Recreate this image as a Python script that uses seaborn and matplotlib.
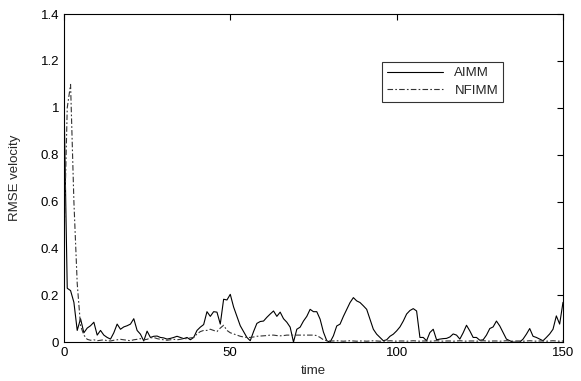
import matplotlib
matplotlib.use("Agg")
import matplotlib.pyplot as plt
import matplotlib.ticker as mticker
import seaborn as sns
import pandas as pd

# RMSE velocity per time step (t = 0 .. 150)
aimm = [1.05, 0.23, 0.22, 0.17, 0.05, 0.10, 0.04, 0.06, 0.07, 0.085,
        0.03, 0.05, 0.03, 0.02, 0.013, 0.04, 0.077, 0.055, 0.065, 0.07,
        0.077, 0.10, 0.05, 0.034, 0.005, 0.047, 0.02, 0.025, 0.026, 0.02,
        0.018, 0.013, 0.016, 0.02, 0.025, 0.02, 0.015, 0.02, 0.01, 0.02,
        0.05, 0.064, 0.075, 0.13, 0.11, 0.13, 0.128, 0.077, 0.183, 0.18,
        0.204, 0.15, 0.11, 0.07, 0.045, 0.02, 0.006, 0.045, 0.08, 0.088,
        0.09, 0.106, 0.12, 0.133, 0.11, 0.128, 0.10, 0.085, 0.064, 0.0,
        0.055, 0.064, 0.09, 0.11, 0.14, 0.13, 0.13, 0.098, 0.043, 0.006,
        0.0, 0.027, 0.069, 0.077, 0.11, 0.14, 0.169, 0.19, 0.176, 0.169,
        0.155, 0.14, 0.098, 0.055, 0.034, 0.02, 0.006, 0.01, 0.025, 0.034,
        0.048, 0.065, 0.09, 0.12, 0.135, 0.143, 0.133, 0.02, 0.02, 0.006,
        0.041, 0.055, 0.01, 0.013, 0.015, 0.016, 0.022, 0.035, 0.03, 0.013,
        0.04, 0.072, 0.048, 0.02, 0.02, 0.008, 0.01, 0.03, 0.058, 0.065,
        0.09, 0.069, 0.041, 0.013, 0.006, 0.0, 0.0, 0.0, 0.013, 0.034,
        0.058, 0.025, 0.02, 0.013, 0.006, 0.02, 0.035, 0.055, 0.112, 0.077,
        0.17]
nfimm = [0.40, 1.00, 1.10, 0.60, 0.25, 0.07, 0.03, 0.012, 0.008, 0.01,
         0.006, 0.008, 0.01, 0.006, 0.005, 0.008, 0.01, 0.012, 0.01, 0.008,
         0.006, 0.01, 0.012, 0.015, 0.01, 0.012, 0.018, 0.02, 0.015, 0.012,
         0.01, 0.008, 0.01, 0.012, 0.01, 0.012, 0.015, 0.015, 0.018, 0.02,
         0.035, 0.045, 0.05, 0.05, 0.055, 0.05, 0.045, 0.06, 0.072, 0.05,
         0.04, 0.035, 0.03, 0.025, 0.022, 0.02, 0.02, 0.022, 0.025, 0.026,
         0.027, 0.028, 0.03, 0.03, 0.028, 0.027, 0.028, 0.03, 0.03, 0.03,
         0.03, 0.03, 0.03, 0.03, 0.03, 0.03, 0.028, 0.02, 0.01, 0.006,
         0.005, 0.005, 0.006, 0.005, 0.004, 0.005, 0.006, 0.005, 0.004, 0.005,
         0.005, 0.004, 0.005, 0.006, 0.005, 0.004, 0.004, 0.005, 0.006, 0.005,
         0.004, 0.005, 0.005, 0.004, 0.005, 0.006, 0.005, 0.004, 0.005, 0.005,
         0.004, 0.005, 0.006, 0.005, 0.004, 0.005, 0.005, 0.004, 0.005, 0.006,
         0.005, 0.004, 0.005, 0.005, 0.004, 0.005, 0.006, 0.005, 0.004, 0.005,
         0.005, 0.004, 0.005, 0.006, 0.005, 0.004, 0.005, 0.005, 0.004, 0.005,
         0.006, 0.005, 0.004, 0.005, 0.005, 0.004, 0.005, 0.006, 0.005, 0.004,
         0.005]
time = list(range(len(aimm)))
methods = ["AIMM", "NFIMM"]

df = pd.DataFrame({
    "time": time + time,
    "RMSE": aimm + nfimm,
    "method": [methods[0]] * len(aimm) + [methods[1]] * len(nfimm),
})

sns.set_style("white")
plt.rcParams["font.family"] = ["Liberation Sans", "DejaVu Sans"]

fig = plt.figure(figsize=(5.81, 3.81), dpi=100)
ax = fig.add_axes([0.110, 0.102, 0.859, 0.861])

sns.lineplot(data=df, x="time", y="RMSE", hue="method", style="method",
             palette=["black", "#333333"],
             dashes={"AIMM": "", "NFIMM": (5, 2, 1.5, 2)},
             linewidth=0.8, ax=ax)

ax.set_xlim(0, 150)
ax.set_ylim(0, 1.4)
ax.set_xticks([0, 50, 100, 150])
ax.set_yticks([0, 0.2, 0.4, 0.6, 0.8, 1.0, 1.2, 1.4])
ax.yaxis.set_major_formatter(mticker.FuncFormatter(lambda v, p: "%g" % round(v, 1)))
ax.tick_params(direction="in", length=4, width=0.8, labelsize=9.5,
               top=True, right=True, colors="black")
for s in ax.spines.values():
    s.set_color("black")
    s.set_linewidth(0.8)

ax.set_xlabel("time", fontsize=9.5, labelpad=4)
ax.set_ylabel("RMSE velocity", fontsize=9.5, labelpad=14)

leg = ax.legend(loc="upper left", bbox_to_anchor=(0.637, 0.855), borderaxespad=0,
                fontsize=9.5, frameon=True, fancybox=False, handlelength=4.2,
                borderpad=0.4, labelspacing=0.4, handletextpad=0.9)
leg.get_frame().set_edgecolor("black")
leg.get_frame().set_linewidth(0.8)

fig.savefig("out.png", dpi=100)
